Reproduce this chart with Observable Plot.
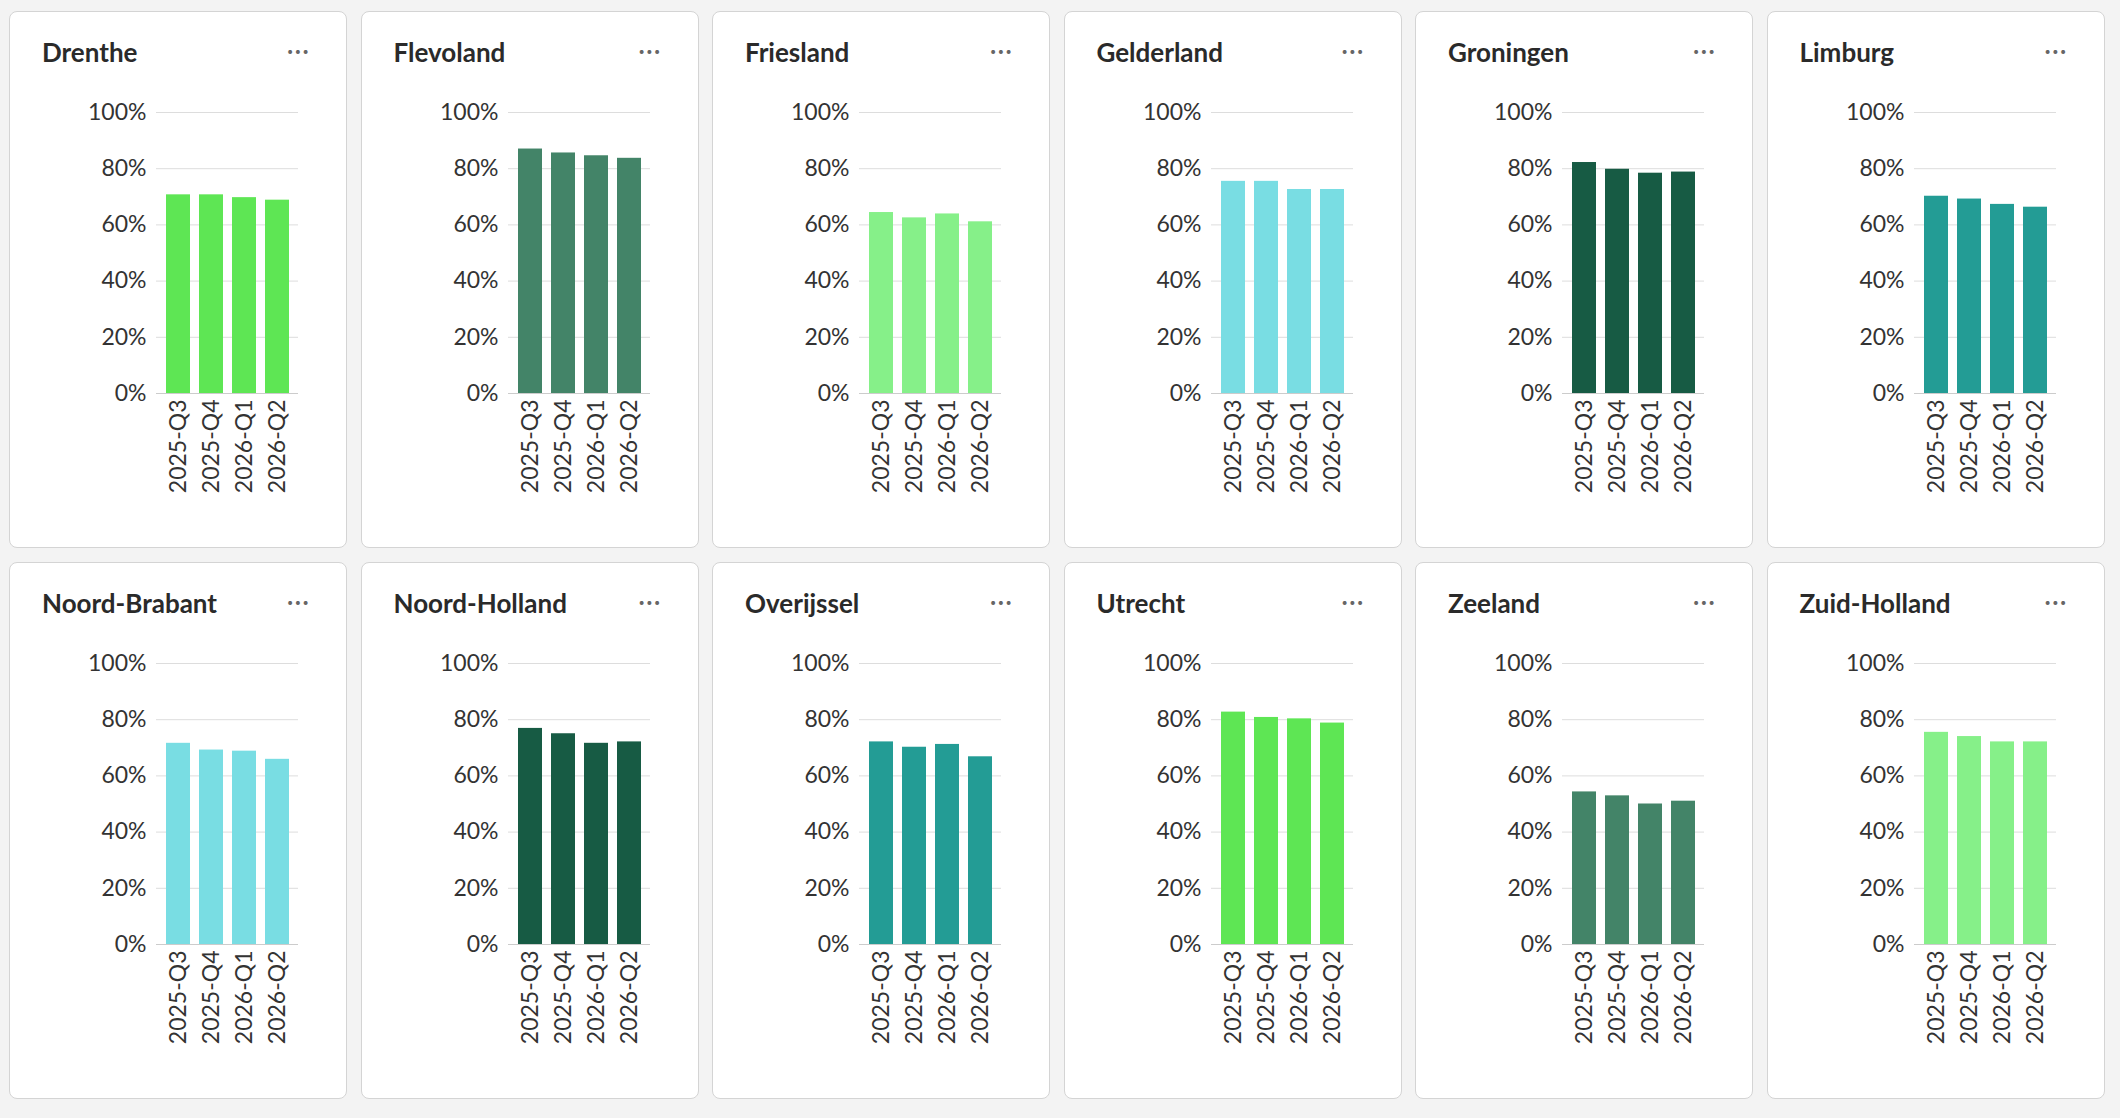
<!DOCTYPE html>
<html><head><meta charset="utf-8">
<script src="https://cdn.jsdelivr.net/npm/d3@7"></script>
<script src="https://cdn.jsdelivr.net/npm/@observablehq/plot@0.6"></script>
<style>
body{margin:0;background:#f3f3f3;font-family:Lato,sans-serif;width:2120px;height:1118px;overflow:hidden}
.card{position:absolute;width:336px;height:535px;background:#fff;border:1px solid #d4d4d4;border-radius:8px}
.title{position:absolute;left:32px;top:24px;font-size:26px;font-weight:700;color:#2a2a2a}
.dots{position:absolute;right:36px;top:22px;font-size:26px;color:#666;letter-spacing:1px}
.card svg{position:absolute;left:0;top:0}
</style></head><body>
<script>
const provinces=["Drenthe","Flevoland","Friesland","Gelderland","Groningen","Limburg","Noord-Brabant","Noord-Holland","Overijssel","Utrecht","Zeeland","Zuid-Holland"];
const quarters=["2025-Q3","2025-Q4","2026-Q1","2026-Q2"];
const values=[
[70.7,70.7,69.7,68.8],[87.0,85.6,84.6,83.7],[64.4,62.5,63.9,61.1],[75.5,75.5,72.6,72.6],
[82.2,79.8,78.4,78.8],[70.2,69.2,67.3,66.3],[71.6,69.2,68.8,65.9],[76.9,75.0,71.6,72.1],
[72.1,70.2,71.2,66.8],[82.7,80.8,80.3,78.8],[54.3,52.9,50.0,51.0],[75.5,74.0,72.1,72.1]];
const colors=["#5ee654","#438468","#86f089","#79dde3","#175b44","#239c95","#79dde3","#175b44","#239c95","#5ee654","#438468","#86f089"];
provinces.forEach((p,i)=>{
  const r=Math.floor(i/6),c=i%6;
  const card=document.createElement("div");card.className="card";
  card.style.left=(9+c*351.5)+"px";card.style.top=(11+r*551)+"px";
  const data=quarters.map((q,j)=>({q,v:values[i][j]/100}));
  const svg=Plot.plot({width:336,height:530,marginLeft:146,marginRight:48,marginTop:100,marginBottom:149,
    style:{fontFamily:"Lato",fontSize:"23px",color:"#333"},
    x:{domain:quarters,padding:0.28,label:null,tickRotate:-90,tickSize:0,tickPadding:6},
    y:{domain:[0,1],ticks:5,tickFormat:d3.format(".0%"),label:null,tickSize:0,tickPadding:10},
    marks:[Plot.gridY({ticks:5,stroke:"#ddd",strokeOpacity:1}),
      Plot.barY(data,{x:"q",y:"v",fill:colors[i]}),
      Plot.ruleY([0],{stroke:"#ccc"})]});
  card.appendChild(svg);
  const t=document.createElement("div");t.className="title";t.textContent=p;card.appendChild(t);
  const d=document.createElement("div");d.className="dots";d.textContent="···";card.appendChild(d);
  document.body.appendChild(card);
});
</script></body></html>
